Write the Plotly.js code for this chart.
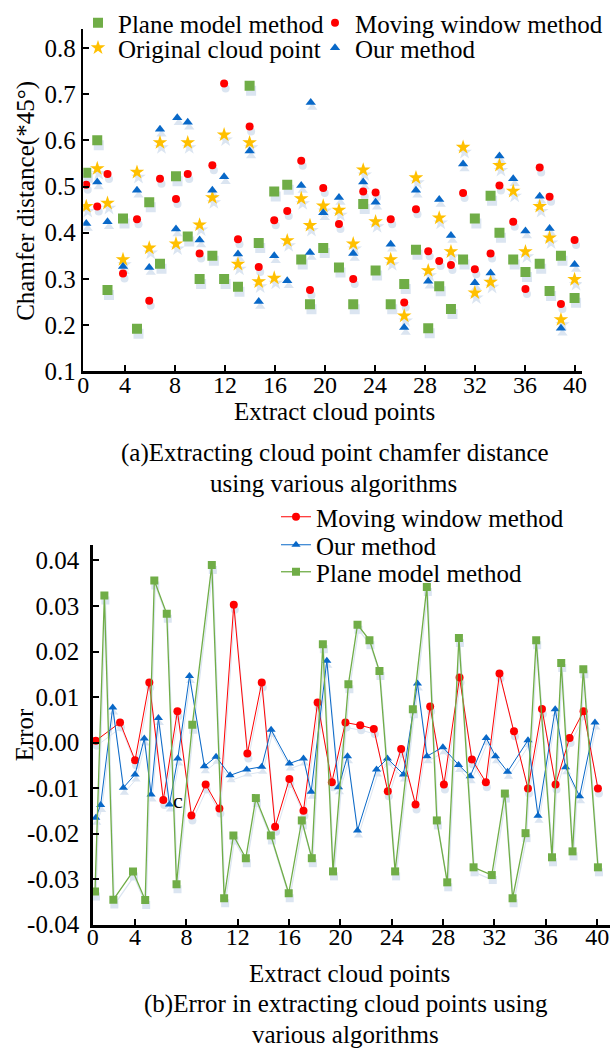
<!DOCTYPE html>
<html>
<head>
<meta charset="utf-8">
<script src="https://cdn.plot.ly/plotly-3.0.1.min.js"></script>
<style>html,body{margin:0;padding:0;background:#fff}#chart{width:614px;height:1048px}</style>
</head>
<body>
<div id="chart"></div>
<script>
// ---------- data: (a) chamfer distance ----------
const xTop = [0.9,1.78,2.6,3.84,4.96,5.94,6.8,8.08,9.02,9.97,10.99,11.93,13.04,13.97,14.7,15.94,16.98,18.1,18.8,19.86,21.12,22.26,23.06,24.05,25.26,26.34,27.28,28.26,29.14,30.08,31.05,31.99,33.25,33.96,35.06,36.04,37.18,37.97,38.88,39.97];
const planeTop = [0.530,0.600,0.276,0.431,0.192,0.466,0.333,0.522,0.392,0.300,0.350,0.300,0.283,0.718,0.378,0.489,0.504,0.342,0.245,0.367,0.325,0.245,0.462,0.318,0.245,0.289,0.363,0.193,0.284,0.235,0.342,0.431,0.480,0.400,0.342,0.315,0.333,0.274,0.350,0.259];
const movingTop = [0.504,0.457,0.527,0.312,0.429,0.253,0.517,0.473,0.527,0.355,0.546,0.723,0.386,0.630,0.326,0.427,0.447,0.556,0.276,0.497,0.419,0.300,0.489,0.487,0.429,0.249,0.451,0.360,0.339,0.330,0.486,0.321,0.355,0.502,0.424,0.278,0.541,0.478,0.246,0.384];
const originalTop = [0.457,0.539,0.464,0.342,0.531,0.367,0.595,0.376,0.595,0.417,0.476,0.612,0.332,0.595,0.294,0.302,0.383,0.474,0.416,0.458,0.449,0.376,0.536,0.424,0.342,0.220,0.519,0.318,0.432,0.359,0.585,0.270,0.293,0.546,0.490,0.359,0.457,0.389,0.212,0.299];
const xOurTop = [0.9,1.78,2.6,3.84,4.96,5.94,6.8,8.08,8.18,9.02,9.97,10.99,11.93,13.04,13.97,14.7,15.94,16.98,18.1,18.8,18.86,19.86,21.12,22.26,23.06,24.05,25.26,26.34,27.28,28.26,29.14,30.08,31.05,31.99,33.25,33.96,35.06,36.04,37.18,37.97,38.88,39.97];
const ourTop = [0.420,0.510,0.424,0.327,0.492,0.325,0.624,0.408,0.649,0.639,0.384,0.492,0.521,0.354,0.577,0.251,0.350,0.296,0.502,0.357,0.682,0.443,0.476,0.355,0.510,0.466,0.375,0.195,0.492,0.295,0.472,0.394,0.549,0.292,0.313,0.566,0.517,0.404,0.479,0.409,0.193,0.331];

// ---------- data: (b) error ----------
const xMovingErr = [0.94,2.83,4.0,5.11,6.2,7.3,8.39,9.5,10.57,11.69,12.75,13.87,14.91,16.02,17.12,18.22,19.33,20.39,21.54,22.6,23.69,24.73,25.85,26.99,28.06,29.28,30.24,31.33,32.39,33.52,34.61,35.7,36.76,37.85,38.94,40.06];
const movingErr = [0.0004,0.0044,-0.0039,0.0132,-0.0126,0.0069,-0.0160,-0.0092,-0.0145,0.0303,-0.0024,0.0132,-0.0185,-0.0080,-0.0150,0.0088,-0.0087,0.0044,0.0038,0.0030,-0.0107,-0.0014,-0.0136,0.0079,-0.0092,0.0143,-0.0037,-0.0087,0.0152,0.0025,-0.0101,0.0074,-0.0092,0.0010,0.0069,-0.0101];
const xOurErr = [0.94,1.32,2.26,3.09,4.0,4.72,5.25,5.82,6.68,7.33,8.24,9.4,10.31,11.4,12.7,13.87,14.6,16.02,17.12,17.72,18.94,19.85,20.55,21.33,22.81,23.66,24.91,26.0,26.74,27.98,29.2,30.11,31.36,32.08,33.02,34.61,35.39,36.73,37.54,38.63,39.83];
const ourErr = [-0.0165,-0.0137,0.0077,-0.0099,-0.0070,0.0009,-0.0114,0.0054,-0.0136,-0.0035,0.0146,-0.0052,-0.0031,-0.0072,-0.0059,-0.0053,0.0028,-0.0046,-0.0035,-0.0108,0.0180,-0.0098,-0.0030,-0.0193,-0.0059,-0.0035,-0.0070,0.0130,-0.0030,-0.0010,-0.0049,-0.0074,0.0010,-0.0030,-0.0064,0.0005,-0.0161,0.0073,-0.0054,-0.0118,0.0044];
const xPlaneErr = [0.88,1.61,2.31,3.84,4.79,5.5,6.47,7.23,8.46,9.98,10.94,11.66,12.63,13.41,14.58,15.97,16.99,17.77,18.63,19.42,20.62,21.33,22.26,23.04,24.26,25.64,26.73,27.51,28.32,29.23,30.37,31.79,32.81,33.41,34.42,35.25,36.48,37.2,38.08,38.92,40.06];
const planeErr = [-0.0327,0.0323,-0.0345,-0.0283,-0.0346,0.0356,0.0283,-0.0311,0.0039,0.0390,-0.0342,-0.0204,-0.0254,-0.0122,-0.0204,-0.0331,-0.0171,-0.0254,0.0216,-0.0283,0.0128,0.0259,0.0225,0.0157,-0.0283,0.0073,0.0342,-0.0171,-0.0307,0.0230,-0.0274,-0.0291,-0.0112,-0.0342,-0.0199,0.0225,-0.0252,0.0175,-0.0239,0.0161,-0.0274];

// ---------- tick labels ----------
const xTickLabels = ['0','4','8','12','16','20','24','28','32','36','40'];
const yTopTickLabels = ['0.1','0.2','0.3','0.4','0.5','0.6','0.7','0.8'];
const yErrTickLabels = ['-0.04','-0.03','-0.02','-0.01','0.00','0.01','0.02','0.03','0.04'];

// ---------- names ----------
const names = {plane:'Plane model method', moving:'Moving window method', original:'Original cloud point', our:'Our method'};

// ---------- style ----------
const FONT = 'Liberation Serif';
const W = 614, H = 1048;
const C = {green:'#70AD47', red:'#FF0000', gold:'#FFC000', blue:'#0868C8', shadow:'#dbe5f1'};

// plot-area geometry (px)
const TOP = {l:83.3, r:581.7, t:28, b:370.7, xr:[0.664,40.54], yr:[0.1,0.841]};
const BOT = {l:92.7, r:610, t:545, b:925, xr:[0.70,41.0], yr:[-0.0401,0.0433]};
function dom(g){ return {x:[g.l/W, g.r/W], y:[1-g.b/H, 1-g.t/H]}; }
function shiftRange(r, px, lenPx, dir){ const d=(r[1]-r[0])*px/lenPx*dir; return [r[0]+d, r[1]+d]; }
const dT = dom(TOP), dB = dom(BOT);

const xTickValsTop = xTickLabels.map((t,i)=> i===0 ? TOP.xr[0] : Number(t));
const xTickValsBot = xTickLabels.map((t,i)=> i===0 ? BOT.xr[0] : Number(t));

const tf = (s) => ({family:FONT, size:s, color:'#000'});
const axisBase = {showline:true, linecolor:'#000', linewidth:2.5, ticks:'inside', ticklen:6, tickwidth:2, tickcolor:'#000',
  showgrid:false, zeroline:false, fixedrange:true};
const hiddenAxis = {visible:false, showgrid:false, zeroline:false, fixedrange:true};

// subplot order: xy (top shadows), x2y2 (bottom shadows), x3y3 (top main), x4y4 (bottom main)
const traces = [];
function topSeries(x, y, name, sym, size, color, leg){
  traces.push({x:x, y:y, type:'scatter', mode:'markers', xaxis:'x', yaxis:'y', showlegend:false, hoverinfo:'skip',
    marker:{symbol:sym, size:size, color:C.shadow}});
  traces.push({x:x, y:y, type:'scatter', mode:'markers', xaxis:'x3', yaxis:'y3', name:name, legend:leg,
    marker:{symbol:sym, size:size, color:color}});
}
topSeries(xTop, planeTop, names.plane, 'square', 10, C.green, 'legend');
topSeries(xTop, movingTop, names.moving, 'circle', 8, C.red, 'legend2');
topSeries(xTop, originalTop, names.original, 'star', 11, C.gold, 'legend3');
topSeries(xOurTop, ourTop, names.our, 'triangle-up', 9, C.blue, 'legend4');

function botSeries(x, y, name, sym, size, color, lw, leg){
  traces.push({x:x, y:y, type:'scatter', mode:'lines+markers', xaxis:'x2', yaxis:'y2', showlegend:false, hoverinfo:'skip',
    line:{color:C.shadow, width:lw}, marker:{symbol:sym, size:size, color:C.shadow}});
  traces.push({x:x, y:y, type:'scatter', mode:'lines+markers', xaxis:'x4', yaxis:'y4', name:name, legend:leg,
    line:{color:color, width:lw}, marker:{symbol:sym, size:size, color:color}});
}
botSeries(xMovingErr, movingErr, names.moving, 'circle', 8, C.red, 1, 'legend5');
botSeries(xOurErr, ourErr, names.our, 'triangle-up', 8, C.blue, 1, 'legend6');
botSeries(xPlaneErr, planeErr, names.plane, 'square', 8, C.green, 1.3, 'legend7');

function leg(xpx, ypx){ return {x:xpx/W, y:1-ypx/H, xanchor:'left', yanchor:'middle', orientation:'h',
  bgcolor:'rgba(0,0,0,0)', borderwidth:0, font:tf(25), itemclick:false, itemdoubleclick:false}; }

const layout = {
  width:W, height:H, margin:{l:0,r:0,t:0,b:0}, paper_bgcolor:'#fff', plot_bgcolor:'rgba(0,0,0,0)',
  font:tf(25),
  xaxis:  Object.assign({}, hiddenAxis, {domain:dT.x, anchor:'y',  range:shiftRange(TOP.xr, 1.5, TOP.r-TOP.l, -1)}),
  yaxis:  Object.assign({}, hiddenAxis, {domain:dT.y, anchor:'x',  range:shiftRange(TOP.yr, 5, TOP.b-TOP.t, 1)}),
  xaxis2: Object.assign({}, hiddenAxis, {domain:dB.x, anchor:'y2', range:shiftRange(BOT.xr, 1, BOT.r-BOT.l, -1)}),
  yaxis2: Object.assign({}, hiddenAxis, {domain:dB.y, anchor:'x2', range:shiftRange(BOT.yr, 5, BOT.b-BOT.t, 1)}),
  xaxis3: Object.assign({}, axisBase, {domain:dT.x, anchor:'y3', range:TOP.xr, tickmode:'array', tickvals:xTickValsTop, ticktext:xTickLabels, tickfont:tf(24), ticklabelstandoff:-10}),
  yaxis3: Object.assign({}, axisBase, {domain:dT.y, anchor:'x3', range:TOP.yr, tickmode:'array', tickvals:yTopTickLabels.map(Number), ticktext:yTopTickLabels, tickfont:tf(25)}),
  xaxis4: Object.assign({}, axisBase, {domain:dB.x, anchor:'y4', range:BOT.xr, tickmode:'array', tickvals:xTickValsBot, ticktext:xTickLabels, tickfont:tf(24), ticklabelstandoff:-11}),
  yaxis4: Object.assign({}, axisBase, {domain:dB.y, anchor:'x4', range:BOT.yr, tickmode:'array', tickvals:yErrTickLabels.map(Number), ticktext:yErrTickLabels, ticklabelstandoff:6, tickfont:tf(25)}),
  legend:  leg(78, 22),
  legend2: leg(315, 22),
  legend3: leg(78, 48),
  legend4: leg(315, 48),
  legend5: leg(276, 517),
  legend6: leg(276, 545),
  legend7: leg(276, 572),
  annotations: [
    {text:'Chamfer distance(*45°)', textangle:-90, x:26/W, y:1-200/H},
    {text:'Extract cloud points', x:334/W, y:1-411/H},
    {text:'(a)Extracting cloud point chamfer distance', x:335/W, y:1-452/H},
    {text:'using various algorithms', x:333/W, y:1-483/H},
    {text:'Error', textangle:-90, x:24/W, y:1-734/H},
    {text:'Extract cloud points', x:349/W, y:1-973/H},
    {text:'(b)Error in extracting cloud points using', x:346/W, y:1-1004/H},
    {text:'various algorithms', x:345/W, y:1-1034/H},
    {text:'c', x:178/W, y:1-800/H, font:tf(22)}
  ].map(a => Object.assign({xref:'paper', yref:'paper', xanchor:'center', yanchor:'middle', showarrow:false, font:tf(25)}, a))
};

Plotly.newPlot('chart', traces, layout, {displayModeBar:false, staticPlot:true});
</script>
</body>
</html>
